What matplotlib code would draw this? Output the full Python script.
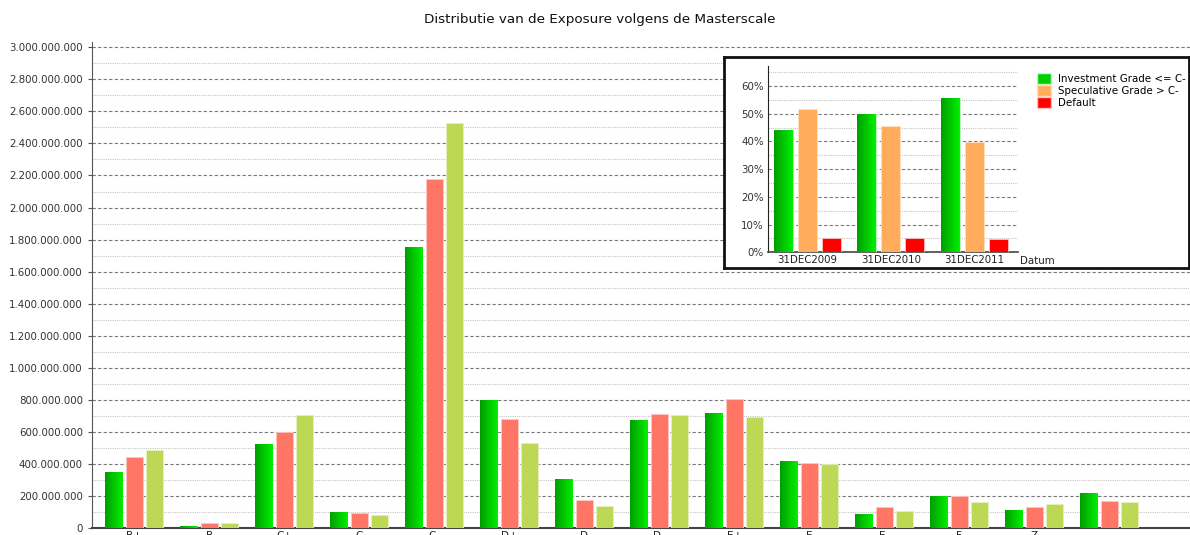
import numpy as np
import matplotlib
matplotlib.use('Agg')
import matplotlib.pyplot as plt
from matplotlib.colors import LinearSegmentedColormap
from matplotlib.patches import Patch
from matplotlib.ticker import FuncFormatter, MultipleLocator

# main chart data (exposure per masterscale grade)
grades = ['B+', 'B', 'C+', 'C', 'C-', 'D+', 'D', 'D-', 'E+', 'E', 'E-', 'F', 'Z', '']
dates = ['31DEC2009', '31DEC2010', '31DEC2011']
exp_2009 = [352e6, 14e6, 524e6, 102e6, 1753e6, 798e6, 306e6, 676e6, 717e6, 418e6, 87e6, 198e6, 112e6, 220e6]
exp_2010 = [446e6, 29e6, 600e6, 96e6, 2175e6, 682e6, 175e6, 711e6, 805e6, 405e6, 133e6, 198e6, 133e6, 168e6]
exp_2011 = [486e6, 29e6, 706e6, 81e6, 2527e6, 530e6, 139e6, 705e6, 692e6, 399e6, 104e6, 162e6, 150e6, 162e6]

# inset data (share per rating class)
inset_labels = ['Investment Grade <= C-', 'Speculative Grade > C-', 'Default']
investment = [44.0, 49.9, 55.7]
speculative = [51.7, 45.7, 39.9]
default = [5.05, 5.05, 4.7]

green_cmap = LinearSegmentedColormap.from_list('g', ['#009e00', '#00f000'])

plt.rcParams['font.family'] = 'DejaVu Sans'
fig = plt.figure(figsize=(11.9, 5.35), dpi=100)


def gradient_bars(ax, bars):
    # fill each bar with a horizontal green gradient
    grad = np.linspace(0, 1, 64).reshape(1, -1)
    for b in bars:
        x0, w, h = b.get_x(), b.get_width(), b.get_height()
        im = ax.imshow(grad, extent=[x0, x0 + w, 0, h], aspect='auto',
                       cmap=green_cmap, zorder=3.1)
        im.set_clip_path(b)


# ---- main chart ----
W, H = 1190, 535
ax = fig.add_axes([92 / W, (H - 528) / H, (1190 - 92) / W, (528 - 42) / H])
x = np.arange(len(grades))
bw, off = 0.227, 0.276
b1 = ax.bar(x - off, exp_2009, bw, color='#00c800', edgecolor='#c8f5c8', linewidth=0.6, zorder=3)
ax.bar(x, exp_2010, bw, color='#ff7566', edgecolor='#ffc8c0', linewidth=0.6, zorder=3)
ax.bar(x + off, exp_2011, bw, color='#bdd855', edgecolor='#e6f0c0', linewidth=0.6, zorder=3)
gradient_bars(ax, b1)

ax.set_xlim(-0.563, 14.08)
ax.set_ylim(0, 3.033e9)
ax.yaxis.set_major_locator(MultipleLocator(2e8))
ax.yaxis.set_minor_locator(MultipleLocator(1e8))
ax.yaxis.set_major_formatter(FuncFormatter(lambda v, p: f'{v:,.0f}'.replace(',', '.')))
ax.grid(axis='y', which='major', linestyle=(0, (3, 2)), color='#7a7a7a', linewidth=0.8, zorder=0)
ax.grid(axis='y', which='minor', linestyle=(0, (1, 1)), color='#c4c4c4', linewidth=0.8, zorder=0)
ax.set_xticks(x)
ax.set_xticklabels(grades, fontsize=7.5, color='#222222')
ax.tick_params(axis='x', length=0, pad=2)
ax.tick_params(axis='y', which='major', length=3, labelsize=7.4, labelcolor='#333333', color='#555555')
ax.tick_params(axis='y', which='minor', length=0)
for s in ['top', 'right']:
    ax.spines[s].set_visible(False)
ax.spines['left'].set_color('#555555')
ax.spines['bottom'].set_color('#444444')
ax.spines['bottom'].set_linewidth(1.5)

fig.text(0.504, 1 - 20 / H, 'Distributie van de Exposure volgens de Masterscale',
         ha='center', va='center', fontsize=9.7, color='#111111')

# ---- inset box ----
box = fig.add_axes([724 / W, (H - 268) / H, (1189 - 724) / W, (268 - 57) / H])
box.set_xticks([])
box.set_yticks([])
for s in box.spines.values():
    s.set_linewidth(2)
    s.set_color('#111111')
box.set_zorder(5)

ai = fig.add_axes([768 / W, (H - 252.3) / H, (1017.7 - 768) / W, (252.3 - 66) / H])
ai.set_zorder(6)
ai.patch.set_alpha(0)
xi = np.arange(len(dates))
ib, io = 0.228, 0.288
bi = ai.bar(xi - io, investment, ib, color='#00c800', edgecolor='#c8f5c8', linewidth=0.6, zorder=3)
ai.bar(xi, speculative, ib, color='#ffac5c', edgecolor='#ffe0c0', linewidth=0.6, zorder=3)
ai.bar(xi + io, default, ib, color='#ff0000', edgecolor='#ffc0c0', linewidth=0.6, zorder=3)
gradient_bars(ai, bi)
ai.set_xlim(-0.474, 2.523)
ai.set_ylim(0, 67.2)
ai.yaxis.set_major_locator(MultipleLocator(10))
ai.yaxis.set_minor_locator(MultipleLocator(5))
ai.yaxis.set_major_formatter(FuncFormatter(lambda v, p: f'{v:.0f}%'))
ai.grid(axis='y', which='major', linestyle=(0, (3, 2)), color='#7a7a7a', linewidth=0.8, zorder=0)
ai.grid(axis='y', which='minor', linestyle=(0, (1, 1)), color='#c4c4c4', linewidth=0.8, zorder=0)
ai.set_xticks(xi)
ai.set_xticklabels(dates, fontsize=7.4, color='#222222')
ai.tick_params(axis='x', length=0, pad=2)
ai.tick_params(axis='y', which='major', length=0, labelsize=7.4, labelcolor='#333333', pad=3)
ai.tick_params(axis='y', which='minor', length=0)
for s in ['top', 'right']:
    ai.spines[s].set_visible(False)
ai.spines['left'].set_color('#222222')
ai.spines['bottom'].set_color('#444444')
ai.spines['bottom'].set_linewidth(1.2)
ai.text(1.01, -0.02, 'Datum', transform=ai.transAxes, ha='left', va='top', fontsize=7.4, color='#222222')

handles = [Patch(facecolor='#00d000', edgecolor='#c8f5c8'),
           Patch(facecolor='#ffac5c', edgecolor='#ffe0c0'),
           Patch(facecolor='#ff0000', edgecolor='#ffc0c0')]
leg = ai.legend(handles, inset_labels, loc='upper left', bbox_to_anchor=(1032 / W, (H - 68) / H),
                bbox_transform=fig.transFigure, frameon=False, fontsize=7.4,
                handlelength=1.35, handleheight=1.3, handletextpad=0.7, labelspacing=0.05, borderpad=0)

fig.savefig('out.png', dpi=100)
